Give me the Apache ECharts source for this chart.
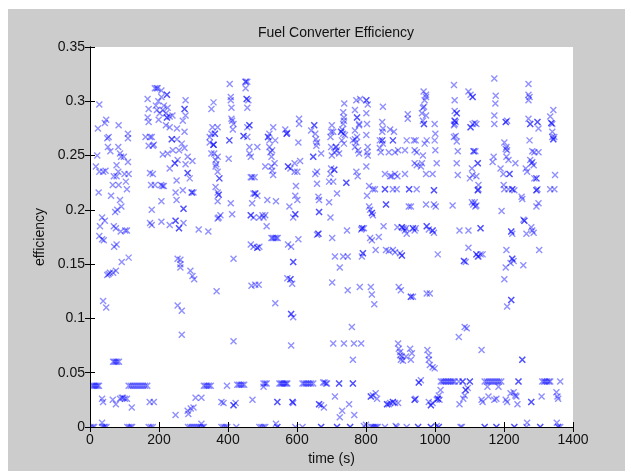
<!DOCTYPE html>
<html>
<head>
<meta charset="utf-8">
<script src="https://cdn.jsdelivr.net/npm/echarts@6/dist/echarts.min.js"></script>
<style>
html,body{margin:0;padding:0;background:#ffffff;}
#chart{width:625px;height:471px;}
</style>
</head>
<body>
<div id="chart"></div>
<script>
// x ticks / y ticks
const xTicks = [0, 200, 400, 600, 800, 1000, 1200, 1400];
const yTicks = [0, 0.05, 0.1, 0.15, 0.2, 0.25, 0.3, 0.35];

// [time (s), efficiency] samples, grouped by time range
const seg0to200 = [
[6,0.038],[10,0.038],[14,0.038],[18,0.038],[22,0.038],[26,0.038],
[2,0],[8,0],[12,0],
[21,0.25],[23,0.275],[27,0.297],[17,0.24],[27,0.235],[25,0.216],[29,0.185],[27,0.176],[35,0.173],[40,0.172],[35,0.193],[43,0.19],
[38,0.116],[47,0.11],
[35,0.026],[38,0.023],[35,0.004],[43,0],
[43,0.28],[47,0.283],[50,0.266],[52,0.258],[54,0.267],[59,0.254],[54,0.141],[50,0.14],[58,0.142],
[45,0.236],[38,0.235],
[61,0.213],[66,0.223],[69,0.185],[75,0.183],[73,0.198],[79,0.2],[70,0.166],[77,0.168],[67,0.142],[75,0.144],
[67,0.06],[71,0.06],[75,0.06],[79,0.06],[84,0.06],
[66,0.025],[75,0.021],
[69,0.231],[77,0.231],[82,0.235],[77,0.241],[82,0.258],[83,0.278],[87,0.252],[90,0.249],
[83,0.223],[87,0.209],[91,0.203],[89,0.18],[92,0.152],
[87,0.026],[92,0.027],[96,0.027],[101,0.026],[107,0.026],
[98,0.249],[100,0.233],[104,0.226],[107,0.219],[102,0.181],[107,0.181],[112,0.156],[110,0.244],[110,0.266],[110,0.27],[112,0.233],
[121,0.018],
[112,0.038],[118,0.038],[124,0.038],[130,0.038],[136,0.038],[142,0.038],[148,0.038],[154,0.038],[160,0.038],[166,0.038],
[35,0],[40,0],[48,0],[108,0],[113,0],[118,0],[122,0],
[161,0.267],[167,0.302],[170,0.293],[167,0.285],[170,0.281],[170,0.259],[174,0.267],[179,0.267],[182,0.259],[174,0.234],[182,0.233],[177,0.223],[179,0.2],[174,0.188],[179,0.186],
[173,0.023],[185,0.023],
[170,0],[176,0],[182,0],
[191,0.296],[193,0.312],[188,0.312],[196,0.312],[198,0.3],[194,0.292],[202,0.289],[207,0.304],[207,0.31],[199,0.283],
[185,0.26],[188,0.223],[206,0.223],[210,0.222],[214,0.222],
[207,0.189],[207,0.208]
];

const seg200to400 = [
[211,0.292],[214,0.296],[220,0.289],[223,0.306],[223,0.306],[223,0.285],[223,0.285],[225,0.294],[220,0.278],[231,0.286],[239,0.287],[231,0.276],[211,0.251],[225,0.252],[237,0.265],[237,0.265],[240,0.255],[231,0.238],
[246,0.243],[246,0.243],[251,0.227],[248,0.216],[231,0.186],[248,0.19],[248,0.19],[251,0.209],[254,0.246],
[258,0.255],[266,0.261],[252,0.265],[252,0.275],
[254,0.155],[262,0.154],[262,0.15],[262,0.147],[254,0.112],[266,0.107],[266,0.085],
[248,0.011],
[258,0.183],[258,0.183],[271,0.201],[271,0.201],[271,0.188],
[269,0.218],[274,0.257],[274,0.272],[269,0.282],[274,0.293],[274,0.293],[277,0.301],[277,0.287],[277,0.242],[283,0.249],[283,0.234],[283,0.234],[289,0.229],[295,0.216],[295,0.216],[297,0.245],[300,0.216],
[283,0.015],[285,0.012],[292,0.017],[300,0.018],
[291,0.144],[297,0.139],[302,0.136],
[284,0],[290,0],[296,0],[302,0],[308,0],[314,0],[320,0],[326,0],[330,0],
[306,0.027],[323,0.027],
[315,0.182],
[323,0.003],
[330,0.038],[335,0.038],[340,0.038],[345,0.038],[350,0.038],
[343,0.18],
[347,0.267],[347,0.262],[352,0.27],[355,0.276],[352,0.293],[358,0.299],[362,0.27],[362,0.27],[358,0.26],[358,0.26],[352,0.252],[360,0.252],[364,0.246],[366,0.242],[370,0.249],[358,0.26],
[364,0.24],[370,0.235],[370,0.276],
[375,0.229],[375,0.229],[364,0.221],[370,0.216],[373,0.214],[373,0.214],[370,0.208],[373,0.193],[370,0.192],[378,0.195],[367,0.125],
[381,0.023],[387,0.022],
[381,0],[387,0],[393,0],[398,0],
[397,0.038],
[402,0.247],[404,0.264],[404,0.264],[405,0.316],[408,0.304],[408,0.301],[410,0.294],[410,0.284],[412,0.282],[414,0.274],[416,0.279],[408,0.206],[412,0.196],[416,0.155],[416,0.079],
[416,0.02],[416,0.02],[422,0.022],
[424,0]
];

const seg400to600 = [
[427,0.039],[432,0.039],[437,0.039],[442,0.039],[447,0.039],
[445,0.268],[445,0.268],[451,0.318],[451,0.318],[456,0.318],[451,0.312],[454,0.302],[454,0.302],[459,0.301],[456,0.294],[462,0.278],[462,0.278],[456,0.276],[456,0.267],[462,0.258],[462,0.252],[466,0.249],[470,0.23],[477,0.23],[466,0.23],
[466,0.195],[466,0.195],[474,0.193],[474,0.215],[479,0.215],[479,0.215],[485,0.213],[470,0.206],[466,0.168],[474,0.166],[485,0.165],[485,0.165],[491,0.166],[468,0.13],[479,0.131],[489,0.131],[471,0.025],
[485,0.258],[491,0.193],[500,0.195],[503,0.193],[508,0.195],
[491,0],[497,0],[503,0],[508,0],
[503,0.04],[508,0.04],[512,0.04],[503,0.037],
[508,0.24],[512,0.185],[514,0.209],[516,0.267],[516,0.267],[520,0.27],[520,0.264],[520,0.258],[526,0.24],[523,0.253],[526,0.249],[528,0.255],[531,0.232],[528,0.236],[531,0.276],[537,0.264],[535,0.243],[539,0.208],
[526,0.174],[530,0.174],[535,0.174],[540,0.174],[544,0.174],
[537,0.114],[543,0.023],[543,0.023],[539,0.003],
[543,0],[543,0],
[549,0.04],[553,0.04],[557,0.04],[561,0.04],[565,0.04],[569,0.04],[572,0.04],
[566,0.274],[570,0.27],[570,0.27],[572,0.271],[574,0.24],[574,0.24],[581,0.238],[578,0.203],[574,0.168],[583,0.166],[589,0.152],[589,0.152],[581,0.136],[581,0.136],[572,0.137],[586,0.132],[583,0.104],[583,0.104],[589,0.101],[583,0.075],[587,0.023],[587,0.023],[589,0.022],
[589,0.193],[595,0.196],[595,0.196],[593,0.235],[601,0.235],[593,0.243],[597,0.222],[595,0.213],[601,0.209],
[606,0.284],[606,0.279],[604,0.262],[609,0.245],[604,0.173],
[595,0],[616,0]
];

const seg600to800 = [
[616,0.04],[621,0.04],[626,0.04],[631,0.04],[636,0.04],[641,0.04],[647,0.04],
[641,0.273],[647,0.249],[647,0.249],[650,0.278],[650,0.278],[653,0.27],[655,0.265],[658,0.262],[656,0.259],[658,0.235],[653,0.233],[658,0.224],[662,0.212],[664,0.198],[664,0.198],[662,0.178],[662,0.178],[658,0.177],
[664,0.209],[670,0.252],
[664,0.021],[664,0.021],[670,0.02],[678,0.018],
[670,0],[670,0],
[676,0.041],[680,0.041],[684,0.04],[687,0.04],
[693,0.207],[697,0.193],[693,0.226],[697,0.233],[699,0.238],[701,0.25],[699,0.258],[697,0.267],[699,0.272],[701,0.278],[705,0.272],[708,0.253],[705,0.226],[702,0.174],[702,0.133],[705,0.077],
[710,0.028],
[708,0.237],[708,0.237],[713,0.258],[713,0.258],[716,0.255],[722,0.252],[716,0.215],[710,0.157],
[716,0],[716,0],
[722,0.04],[722,0.04],[724,0.009],[731,0.015],
[724,0.147],
[728,0.272],[728,0.272],[731,0.274],[734,0.279],[736,0.282],[736,0.285],[734,0.29],[737,0.298],[734,0.27],[730,0.264],[736,0.261],[739,0.269],[734,0.157],[736,0.077],
[743,0.225],[743,0.225],[745,0.181],[747,0.157],[747,0.126],
[751,0.021],
[754,0],[754,0],
[762,0.04],[762,0.04],
[759,0.092],[765,0.077],[762,0.062],[766,0.011],
[762,0.264],[768,0.265],[772,0.262],[774,0.267],[768,0.258],[768,0.273],[774,0.285],[774,0.285],[768,0.292],[772,0.301],[777,0.255],[780,0.252],[772,0.235],[776,0.231],[780,0.278],[783,0.302],[780,0.279],
[789,0.183],[789,0.183],[794,0.183],[786,0.182],[791,0.16],[791,0.16],[788,0.157],[782,0.129],[786,0.077],
[794,0.001],[800,0.002]
];

const seg800to1000 = [
[801,0.301],[801,0.301],[805,0.297],[801,0.289],[803,0.279],[801,0.269],[805,0.258],[803,0.253],[801,0.24],[805,0.25],[803,0.213],[809,0.203],[809,0.222],
[812,0.2],[817,0.197],[817,0.197],[820,0.195],[812,0.174],[817,0.172],[814,0.129],[817,0.122],[824,0.113],[820,0.219],[826,0.219],
[814,0.028],[814,0.028],[820,0.029],[828,0.031],[832,0.026],
[814,0],[818,0],[822,0],[826,0],[830,0],[834,0],
[828,0.163],
[837,0.175],
[840,0.264],[847,0.264],[847,0.264],[849,0.261],[843,0.253],[840,0.257],[847,0.272],[849,0.275],[847,0.281],[849,0.295],[855,0.219],[855,0.219],[851,0.185],[858,0.205],[858,0.205],[855,0.233],
[858,0.163],[866,0.162],
[861,0.021],[861,0.021],[866,0.021],[870,0.022],[878,0.023],[878,0.023],[884,0.022],[893,0.022],
[855,0],
[866,0.253],[870,0.231],[878,0.264],[878,0.264],[874,0.231],[878,0.219],[870,0.274],[881,0.272],[884,0.253],[884,0.233],[891,0.231],[893,0.255],[889,0.219],
[878,0.163],[884,0.161],[891,0.184],
[889,0],[886,0.001],
[893,0.077],[895,0.072],[899,0.069],[904,0.065],[901,0.062],[907,0.061],[899,0.066],
[895,0.129],[901,0.126],[904,0.158],[904,0.158],[899,0.16],[904,0.184],[904,0.184],[909,0.183],[913,0.181],[916,0.183],[918,0.178],[913,0.233],[913,0.255],[918,0.264],
[918,0],[916,0.065],
[921,0.288],[921,0.284],[924,0.203],[930,0.203],[925,0.219],[925,0.219],
[930,0.12],[930,0.12],[936,0.12],
[928,0.072],[933,0.068],[930,0.062],
[936,0.183],[936,0.183],[941,0.181],[944,0.183],
[939,0.264],[944,0.264],[941,0.255],[947,0.253],[941,0.243],[947,0.241],[947,0.219],
[941,0.025],[941,0.025],[944,0.026],
[951,0],[951,0],
[953,0.041],[953,0.041],[959,0.043],
[959,0.24],[962,0.243],[965,0.25],[962,0.289],[965,0.282],[968,0.279],[968,0.279],[965,0.294],[968,0.295],
[967,0.309],[974,0.306],[970,0.301],[974,0.304],
[974,0.287],[976,0.264],[970,0.261],
[974,0.233],[974,0.205],
[976,0.185],[976,0.185],[982,0.182],
[976,0.123],[985,0.123],
[978,0.071],[982,0.066],[982,0.062],[985,0.057],[993,0.055],
[982,0.023],[988,0.02],[988,0.02],[993,0.022],
[988,0],[988,0],
[993,0.233],[997,0.205],[1001,0.255],[999,0.264],[1001,0.27],[997,0.218],[997,0.218],[999,0.279],[993,0.181],[993,0.181],[997,0.179],
[999,0.054]
];

const seg1000to1200 = [
[1002,0.203],[1005,0.243],[1008,0.159],
[1008,0.026],[1008,0.026],[1011,0.029],[1016,0.034],[1013,0.025],[1005,0.025],
[1011,0],[1011,0],[1005,0.001],
[1017,0.042],[1022,0.042],[1027,0.042],[1032,0.042],[1037,0.042],[1042,0.042],[1047,0.042],[1052,0.042],[1057,0.042],
[1051,0.204],[1055,0.315],[1057,0.301],[1055,0.267],[1057,0.291],[1057,0.282],[1057,0.282],[1060,0.281],[1057,0.279],[1055,0.278],[1063,0.289],[1063,0.289],[1060,0.268],[1063,0.263],[1066,0.254],[1063,0.243],[1066,0.232],
[1069,0.042],
[1069,0.083],[1071,0.021],[1078,0],[1074,0],
[1071,0.181],
[1080,0.042],[1080,0.042],
[1084,0.153],[1084,0.153],[1089,0.152],[1086,0.092],[1092,0.091],[1086,0.029],[1089,0.034],[1089,0.034],[1095,0.036],[1082,0.026],
[1097,0.165],[1097,0.181],
[1101,0.042],[1101,0.042],
[1097,0.309],[1103,0.306],[1109,0.304],[1109,0.304],[1103,0.276],[1103,0.276],[1109,0.279],[1115,0.28],[1120,0.279],[1107,0.238],[1101,0.229],[1109,0.232],[1112,0.254],[1112,0.254],[1117,0.254],[1107,0.207],[1111,0.205],[1115,0.207],[1120,0.204],[1117,0.203],
[1120,0.231],[1124,0.218],[1124,0.218],[1126,0.219],[1124,0.243],[1124,0.243],[1126,0.223],
[1120,0.159],[1120,0.159],[1126,0.157],[1132,0.159],[1138,0.159],[1124,0.157],[1132,0.183],[1132,0.183],[1135,0.071],[1138,0.023],[1135,0.025],
[1144,0],[1144,0],
[1144,0.042],[1150,0.042],[1156,0.042],[1162,0.042],[1168,0.042],[1174,0.042],[1180,0.042],[1186,0.042],[1192,0.042],[1152,0.037],
[1155,0.028],[1172,0.025],[1178,0.026],[1184,0.037],
[1167,0.244],[1170,0.249],[1172,0.279],[1176,0.305],[1172,0.321],[1175,0.298],[1172,0.287],
[1178,0],[1178,0],
[1190,0.238],[1193,0.199]
];

const seg1200to1400 = [
[1198,0.233],[1199,0.223],[1205,0.281],[1205,0.281],[1209,0.282],[1201,0.262],[1207,0.258],[1205,0.256],[1209,0.255],[1207,0.249],[1201,0.219],[1205,0.147],[1201,0.136],[1207,0.163],[1209,0.111],[1205,0.025],[1209,0.023],
[1213,0.246],[1216,0.233],[1216,0.233],[1213,0.219],[1221,0.18],[1221,0.18],[1224,0.178],[1221,0.117],[1221,0.117],[1224,0.155],[1224,0.155],[1228,0.153],[1219,0.151],
[1219,0.031],[1228,0.032],[1233,0.029],[1236,0.028],
[1224,0.219],[1224,0.219],[1230,0.218],[1233,0.243],
[1230,0],[1230,0],
[1239,0.021],[1242,0.042],[1242,0.042],
[1251,0.212],[1253,0.21],[1256,0.191],[1259,0.19],[1259,0.19],[1256,0.149],[1253,0.062],[1253,0.062],
[1265,0.178],[1263,0.238],[1267,0.235],
[1267,0.004],[1265,0],
[1271,0.301],[1271,0.306],[1271,0.316],[1274,0.304],[1271,0.284],[1274,0.264],[1276,0.279],[1276,0.279],[1276,0.246],[1280,0.243],[1282,0.254],[1286,0.241],[1288,0.253],[1282,0.244],
[1279,0.184],[1282,0.181],[1286,0.179],
[1279,0.023],[1279,0.023],
[1288,0.229],[1294,0.229],[1294,0.229],[1294,0.218],[1294,0.218],[1297,0.219],[1294,0.203],[1300,0.206],[1300,0.253],[1300,0.275],[1297,0.281],[1297,0.281],[1302,0.163],
[1305,0],[1305,0],[1309,0.028],
[1311,0.042],[1316,0.042],[1320,0.042],[1325,0.042],[1330,0.042],[1334,0.042],
[1334,0.286],[1337,0.28],[1337,0.28],[1340,0.279],[1340,0.272],[1340,0.267],[1343,0.265],[1343,0.265],[1346,0.267],[1343,0.292],[1334,0.219],[1346,0.219],[1348,0.232],
[1352,0.032],[1355,0.028],[1357,0.026],[1353,0.004],[1357,0],[1357,0],[1363,0],
[1363,0.042]
];

const allPoints = [].concat(seg0to200, seg200to400, seg400to600, seg600to800, seg800to1000, seg1000to1200, seg1200to1400);

const chart = echarts.init(document.getElementById('chart'), null, {renderer: 'canvas'});
const FONT = '"Liberation Sans", Arial, Helvetica, sans-serif';
const GRID = {left: 90, top: 47, right: 52, bottom: 44};
const W = 625, H = 471;
const gray = '#cccccc';

const axisCommon = {
  axisLine: {show: true, lineStyle: {color: '#000', width: 1}},
  axisTick: {show: true, inside: true, length: 5, lineStyle: {color: '#000', width: 1}},
  splitLine: {show: false},
  z: 10
};

chart.setOption({
  animation: false,
  backgroundColor: '#ffffff',
  title: {
    text: 'Fuel Converter Efficiency',
    left: 331, top: 21, textAlign: 'center',
    textStyle: {fontFamily: FONT, fontSize: 14, fontWeight: 'normal', color: '#111'}
  },
  graphic: [
    {type: 'rect', z: 5, silent: true, shape: {x: 8, y: 9, width: W - 8, height: GRID.top - 9}, style: {fill: gray}},
    {type: 'rect', z: 5, silent: true, shape: {x: 8, y: H - GRID.bottom, width: W - 8, height: GRID.bottom}, style: {fill: gray}},
    {type: 'rect', z: 5, silent: true, shape: {x: 8, y: GRID.top, width: GRID.left - 8, height: H - GRID.top - GRID.bottom}, style: {fill: gray}},
    {type: 'rect', z: 5, silent: true, shape: {x: W - GRID.right, y: GRID.top, width: GRID.right, height: H - GRID.top - GRID.bottom}, style: {fill: gray}}
  ],
  grid: GRID,
  xAxis: [
    Object.assign({}, axisCommon, {
      type: 'value', min: xTicks[0], max: xTicks[xTicks.length - 1], interval: 200,
      name: 'time (s)', nameLocation: 'middle', nameGap: 24,
      nameTextStyle: {fontFamily: FONT, fontSize: 14, color: '#111'},
      axisLabel: {fontFamily: FONT, fontSize: 14, color: '#111', margin: 6, formatter: function (v) { return String(v); }}
    }),
    Object.assign({}, axisCommon, {
      type: 'value', position: 'top', min: xTicks[0], max: xTicks[xTicks.length - 1], interval: 200,
      axisLabel: {show: false}
    })
  ],
  yAxis: [
    Object.assign({}, axisCommon, {
      type: 'value', min: yTicks[0], max: yTicks[yTicks.length - 1], interval: 0.05,
      name: 'efficiency', nameLocation: 'middle', nameGap: 42, nameRotate: 90,
      nameTextStyle: {fontFamily: FONT, fontSize: 14, color: '#111'},
      axisLabel: {fontFamily: FONT, fontSize: 14, color: '#111', margin: 5, formatter: function (v) { return String(Math.round(v * 100) / 100); }}
    }),
    Object.assign({}, axisCommon, {
      type: 'value', position: 'right', min: yTicks[0], max: yTicks[yTicks.length - 1], interval: 0.05,
      axisLabel: {show: false}
    })
  ],
  series: [{
    type: 'scatter',
    data: allPoints,
    symbol: 'path://M0,0L10,10M0,10L10,0',
    symbolSize: 6,
    z: 2,
    itemStyle: {color: 'rgba(0,0,255,0.55)', borderColor: 'rgba(0,0,255,0.55)', borderWidth: 1.4},
    emphasis: {disabled: true}
  }]
});
</script>
</body>
</html>
